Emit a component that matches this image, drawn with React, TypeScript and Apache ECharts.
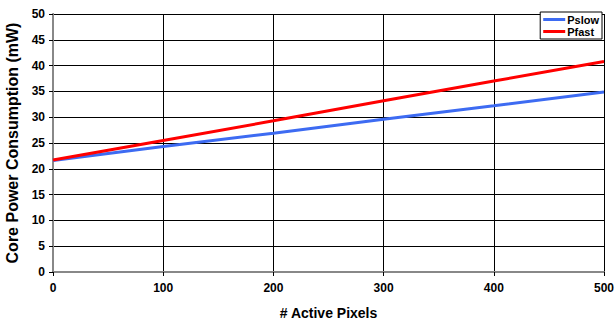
import React, { useEffect, useRef } from "react";
import * as echarts from "echarts";

const xValues = [0, 100, 200, 300, 400, 500];
const pslow = [21.6, 24.3, 26.9, 29.6, 32.2, 34.9];
const pfast = [21.7, 25.5, 29.3, 33.2, 37.0, 40.8];
const seriesNames = ["Pslow", "Pfast"];
const xTitle = "# Active Pixels";
const yTitle = "Core Power Consumption (mW)";

export default function App() {
  const ref = useRef<HTMLDivElement>(null);
  useEffect(() => {
    document.body.style.margin = "0";
    const chart = echarts.init(ref.current!, null, { renderer: "svg" });
    const font = "Liberation Sans, Arial, sans-serif";
    chart.setOption({
      animation: false,
      backgroundColor: "#fff",
      textStyle: { fontFamily: font },
      grid: { left: 53, right: 11, top: 14, bottom: 53, containLabel: false, outerBoundsMode: "none" },
      legend: {
        data: seriesNames,
        orient: "vertical",
        right: 13,
        top: 12,
        itemGap: 1,
        itemWidth: 22,
        itemHeight: 3,
        icon: "rect",
        padding: [2, 3, 2, 3],
        backgroundColor: "#fff",
        borderColor: "#000",
        borderWidth: 1,
        borderRadius: 0,
        textStyle: {
          fontFamily: font,
          fontSize: 11,
          lineHeight: 11,
          fontWeight: "bold",
          color: "#000",
          padding: [0, 0, 0, -3],
        },
      },
      xAxis: [
        {
          type: "value",
          min: 0,
          max: 500,
          interval: 100,
          name: xTitle,
          nameLocation: "middle",
          nameGap: 34,
          nameTextStyle: { fontFamily: font, fontSize: 14, fontWeight: "bold", color: "#000" },
          axisLine: { show: true, lineStyle: { color: "#000", width: 2 } },
          axisTick: { show: true, length: 4, lineStyle: { color: "#000" } },
          axisLabel: { fontFamily: font, fontSize: 12, fontWeight: "bold", color: "#000", margin: 10 },
          splitLine: { show: true, lineStyle: { color: "#000", width: 1 } },
        },
        {
          type: "value",
          min: 0,
          max: 500,
          interval: 100,
          position: "top",
          axisLine: { show: true, lineStyle: { color: "#888", width: 2 } },
          axisTick: { show: false },
          axisLabel: { show: false },
          splitLine: { show: false },
        },
      ],
      yAxis: [
        {
          type: "value",
          min: 0,
          max: 50,
          interval: 5,
          name: yTitle,
          nameLocation: "middle",
          nameGap: 31,
          nameTextStyle: { fontFamily: font, fontSize: 16, fontWeight: "bold", color: "#000" },
          axisLine: { show: true, lineStyle: { color: "#000", width: 1 } },
          axisTick: { show: true, length: 4, lineStyle: { color: "#000" } },
          axisLabel: { fontFamily: font, fontSize: 12, fontWeight: "bold", color: "#000", margin: 8 },
          splitLine: { show: true, lineStyle: { color: "#000", width: 1 } },
        },
        {
          type: "value",
          min: 0,
          max: 50,
          interval: 5,
          position: "right",
          axisLine: { show: true, lineStyle: { color: "#888", width: 2 } },
          axisTick: { show: false },
          axisLabel: { show: false },
          splitLine: { show: false },
        },
      ],
      series: [
        {
          name: seriesNames[0],
          type: "line",
          data: xValues.map((x, i) => [x, pslow[i]]),
          symbol: "none",
          lineStyle: { color: "#3D6BF2", width: 3 },
          itemStyle: { color: "#3D6BF2" },
          z: 3,
        },
        {
          name: seriesNames[1],
          type: "line",
          data: xValues.map((x, i) => [x, pfast[i]]),
          symbol: "none",
          lineStyle: { color: "#FF0000", width: 3 },
          itemStyle: { color: "#FF0000" },
          z: 4,
        },
      ],
    });
    return () => chart.dispose();
  }, []);
  return <div ref={ref} style={{ width: 615, height: 325 }} />;
}
